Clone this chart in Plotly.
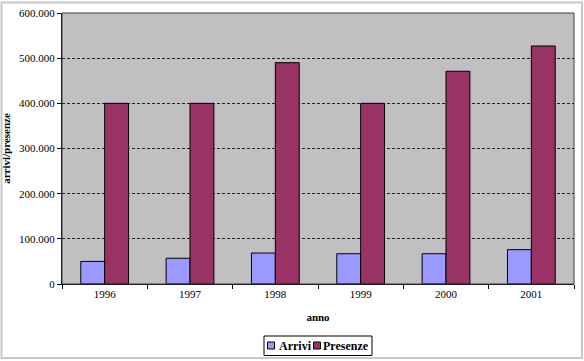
import plotly.graph_objects as go

anni = ["1996", "1997", "1998", "1999", "2000", "2001"]
arrivi = [50000, 57000, 68500, 67000, 67000, 76000]
presenze = [400000, 400000, 490000, 400000, 471000, 527000]
serie = ["Arrivi", "Presenze"]
colori = ["#9999FF", "#993366"]

font_serif = "Liberation Serif, Times New Roman, serif"

fig = go.Figure()
for nome, vals, col in zip(serie, [arrivi, presenze], colori):
    fig.add_trace(go.Bar(name=nome, x=anni, y=vals,
                         marker=dict(color=col, line=dict(color="#000000", width=1))))

L, R, T, B = 62, 10, 13, 77
W, H = 584, 361
pw, ph = W - L - R, H - T - B

def px(x):
    return (x - L) / pw

def py(y):
    return (H - B - y) / ph

shapes = [
    dict(type="rect", xref="paper", yref="paper", x0=0, x1=1, y0=0, y1=1,
         line=dict(color="#404040", width=1), fillcolor="rgba(0,0,0,0)", layer="above"),
    dict(type="rect", xref="paper", yref="paper", x0=px(1.5), x1=px(582), y0=py(358), y1=py(2.5),
         line=dict(color="#C8C8C8", width=2), fillcolor="rgba(0,0,0,0)"),
    # legend box
    dict(type="rect", xref="paper", yref="paper", x0=px(264), x1=px(372), y0=py(355.5), y1=py(336),
         line=dict(color="black", width=1), fillcolor="white"),
]
annotations = []
leg_sq = [267.5, 313.5]
leg_tx = [277, 321]
for nome, col, sx, tx in zip(serie, colori, leg_sq, leg_tx):
    shapes.append(dict(type="rect", xref="paper", yref="paper",
                       x0=px(sx), x1=px(sx + 7), y0=py(349), y1=py(342),
                       line=dict(color="black", width=1), fillcolor=col))
    annotations.append(dict(text="<b>" + nome + "</b>", xref="paper", yref="paper",
                            x=px(tx), y=py(345.5), xanchor="left", yanchor="middle",
                            showarrow=False,
                            font=dict(family=font_serif, size=12, color="black")))

fig.update_layout(
    width=W, height=H,
    margin=dict(l=L, r=R, t=T, b=B, autoexpand=False),
    paper_bgcolor="white",
    plot_bgcolor="#C0C0C0",
    separators=",.",
    barmode="group",
    bargap=0.44,
    bargroupgap=0.0,
    font=dict(family=font_serif, size=11, color="black"),
    showlegend=False,
    xaxis=dict(
        automargin=False,
        showline=True, linecolor="black", linewidth=1, mirror=False,
        ticks="outside", ticklen=4, tickcolor="black", tickson="boundaries",
        showgrid=False,
        title=dict(text="<b>anno</b>", font=dict(family=font_serif, size=11), standoff=14),
        tickfont=dict(family=font_serif, size=11),
    ),
    yaxis=dict(
        automargin=False,
        range=[0, 600000], dtick=100000, tickformat=",d",
        showline=True, linecolor="black", linewidth=1,
        ticks="outside", ticklen=4, tickcolor="black",
        showgrid=True, gridcolor="#202020", gridwidth=1, griddash="3px,2px",
        zeroline=False,
        title=dict(text="<b>arrivi/presenze</b>", font=dict(family=font_serif, size=11), standoff=8),
        tickfont=dict(family=font_serif, size=11),
    ),
    shapes=shapes,
    annotations=annotations,
)

fig.write_html("out.html", config={"displayModeBar": False},
               post_script="document.body.style.margin='0';document.body.style.overflow='hidden';")
